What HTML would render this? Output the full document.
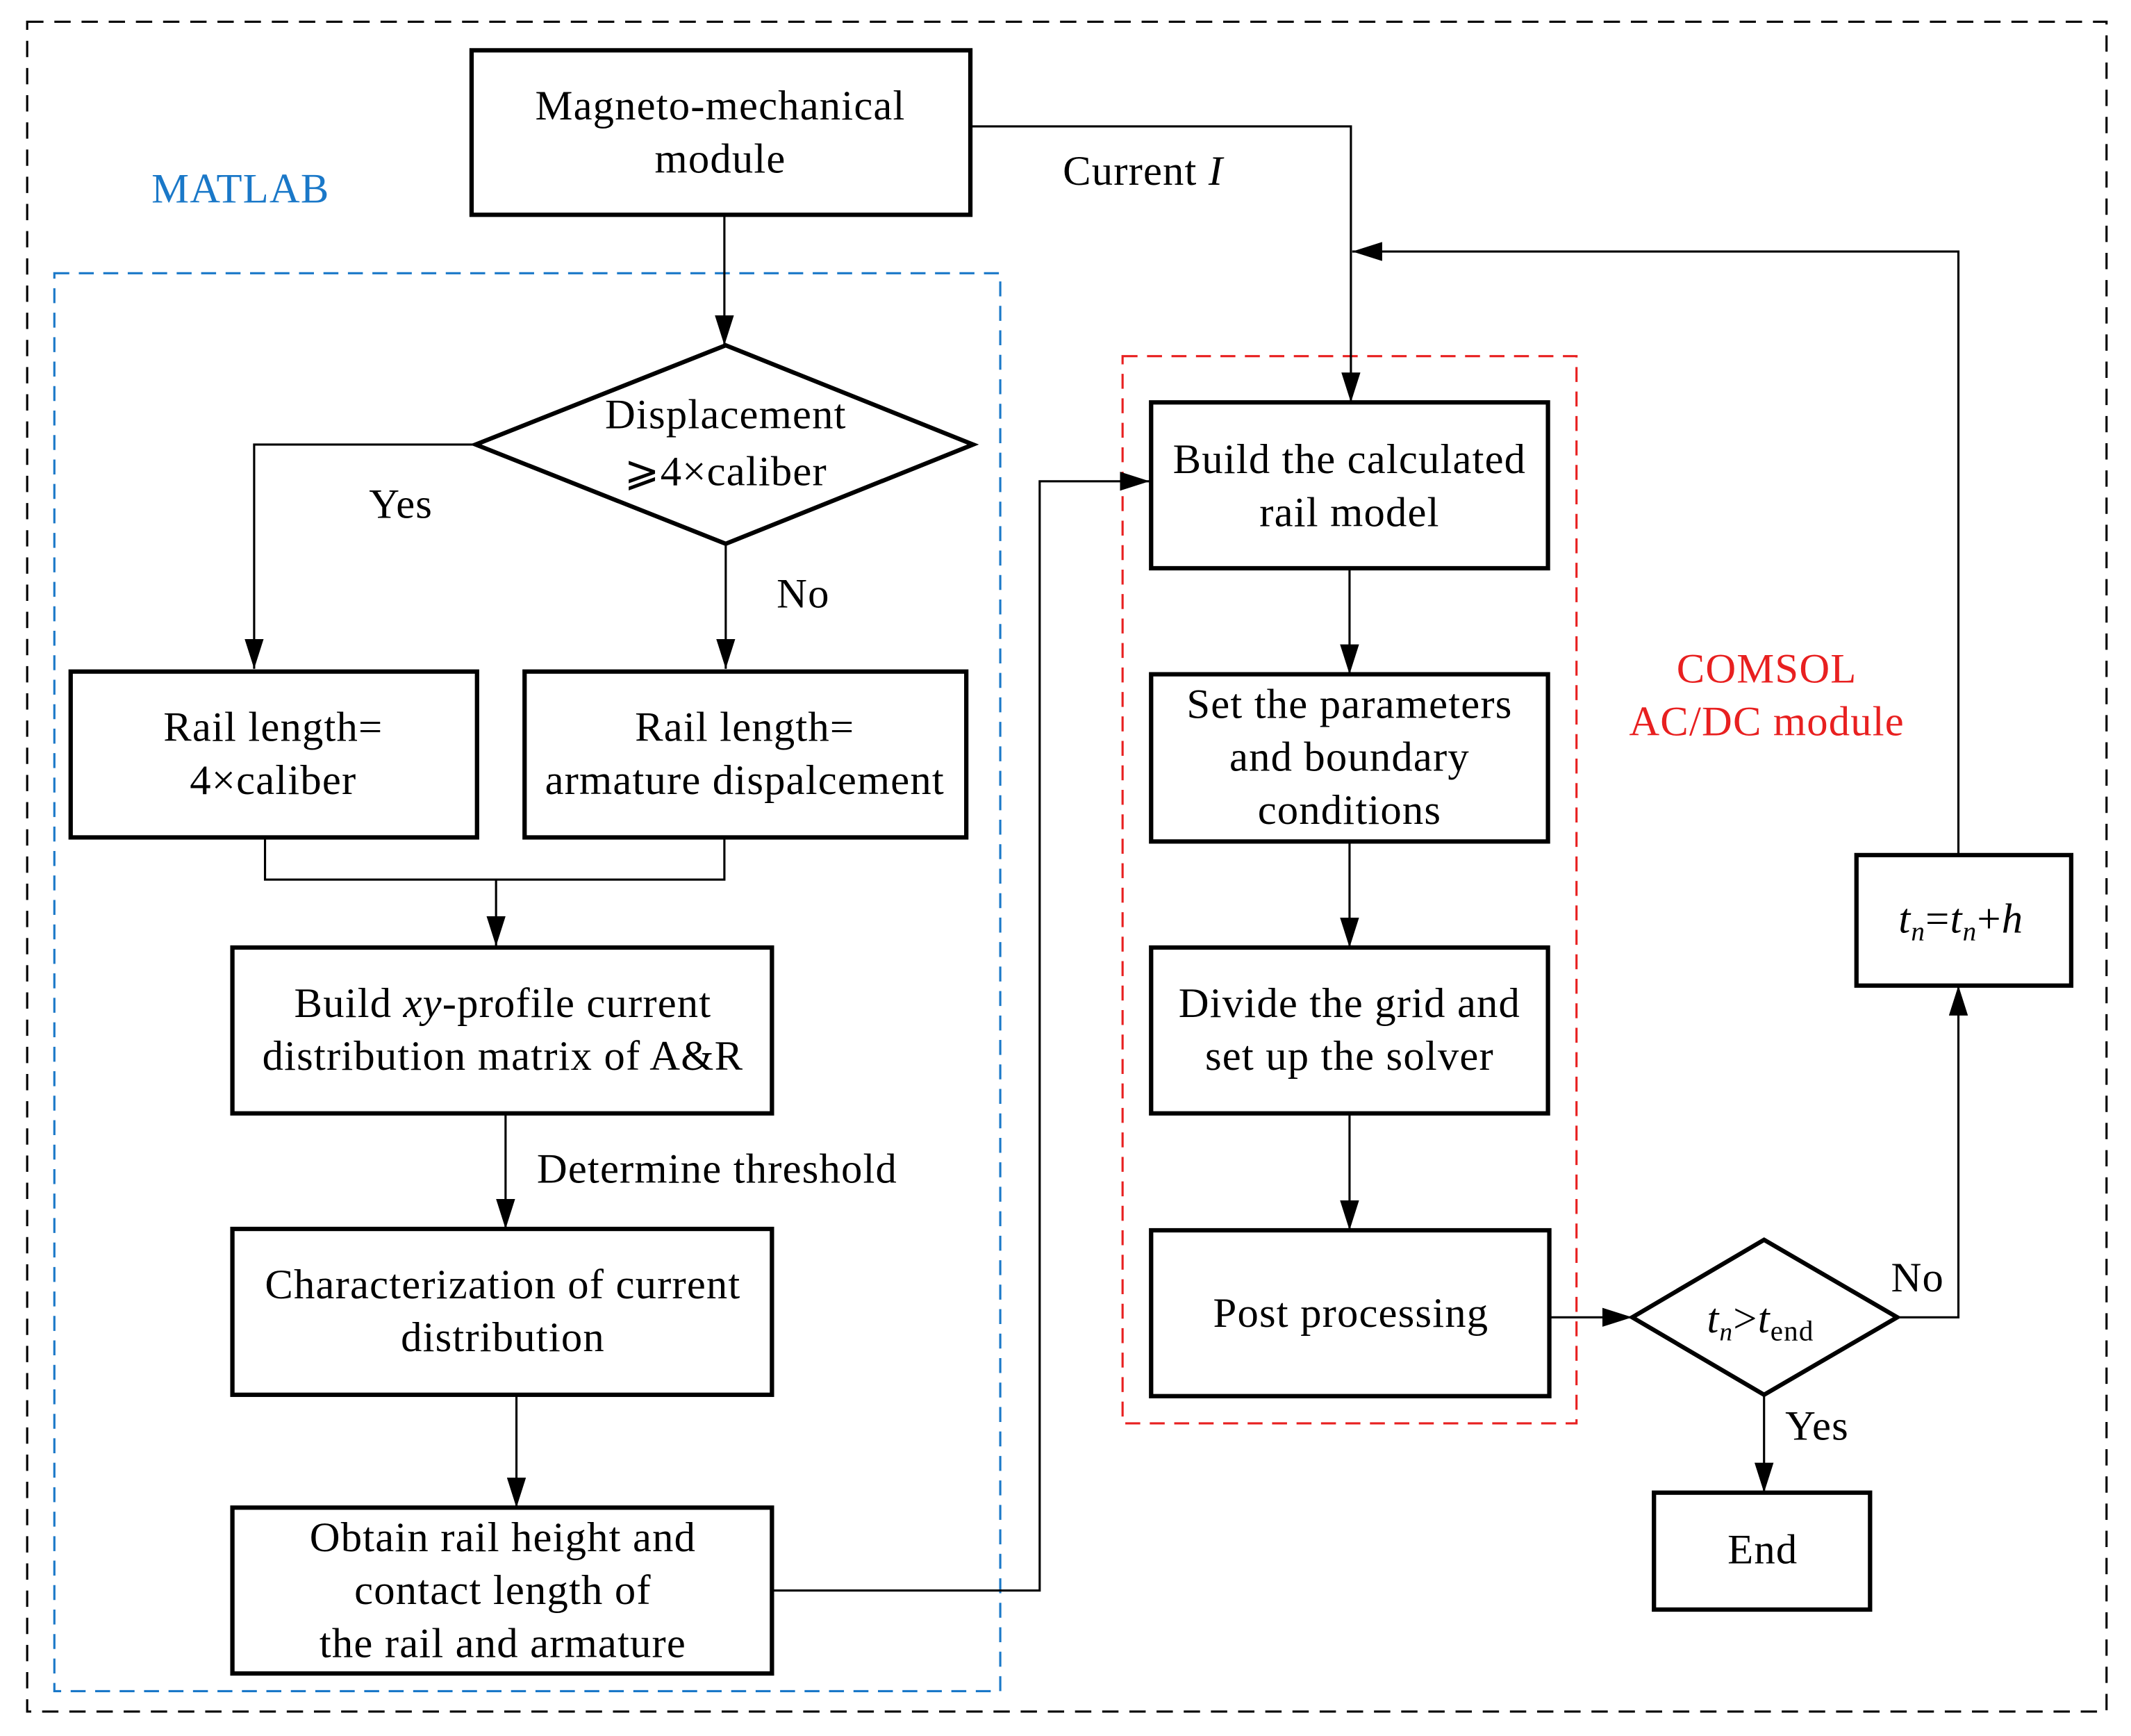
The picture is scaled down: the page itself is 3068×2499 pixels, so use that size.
<!DOCTYPE html>
<html><head><meta charset="utf-8"><style>
html,body{margin:0;padding:0;background:#fff;}
svg{display:block;}
text{font-family:"Liberation Serif",serif;font-size:31px;letter-spacing:0.6px;fill:#000;}
</style></head><body>
<svg width="3068" height="2499" viewBox="0 0 1568 1277" preserveAspectRatio="none" xmlns="http://www.w3.org/2000/svg">
<defs>
<marker id="a" viewBox="0 0 22 14" refX="22" refY="7" markerWidth="22" markerHeight="14" markerUnits="userSpaceOnUse" orient="auto">
<path d="M0,0 L22,7 L0,14 Z" fill="#000"/></marker>
</defs>
<rect x="20" y="16" width="1530" height="1243" fill="none" stroke="#000" stroke-width="1.6" stroke-dasharray="12,8"/>
<rect x="40" y="201" width="696" height="1043" fill="none" stroke="#1a78c8" stroke-width="1.6" stroke-dasharray="11,7"/>
<rect x="826" y="262" width="334" height="785" fill="none" stroke="#e82020" stroke-width="1.6" stroke-dasharray="11,7"/>

<g fill="#fff" stroke="#000" stroke-width="3.2">
<rect x="347" y="37" width="367" height="121"/>
<polygon points="350,327 534,254 716,327 534,400"/>
<rect x="52" y="494" width="299" height="122"/>
<rect x="386" y="494" width="325" height="122"/>
<rect x="171" y="697" width="397" height="122"/>
<rect x="171" y="904" width="397" height="122"/>
<rect x="171" y="1109" width="397" height="122"/>
<rect x="847" y="296" width="292" height="122"/>
<rect x="847" y="496" width="292" height="123"/>
<rect x="847" y="697" width="292" height="122"/>
<rect x="847" y="905" width="293" height="122"/>
<polygon points="1201,969 1298,912 1396,969 1298,1026"/>
<rect x="1217" y="1098" width="159" height="86"/>
<rect x="1366" y="629" width="158" height="96"/>
</g>

<g fill="none" stroke="#000" stroke-width="1.6">
<path d="M533,158 V254" marker-end="url(#a)"/>
<path d="M350,327 H187 V492" marker-end="url(#a)"/>
<path d="M534,400 V492" marker-end="url(#a)"/>
<path d="M195,616 V647 H533 V616"/>
<path d="M365,647 V696" marker-end="url(#a)"/>
<path d="M372,819 V904" marker-end="url(#a)"/>
<path d="M380,1026 V1109" marker-end="url(#a)"/>
<path d="M568,1170 H765 V354 H846" marker-end="url(#a)"/>
<path d="M714,93 H994 V296" marker-end="url(#a)"/>
<path d="M1441,629 V185 H995" marker-end="url(#a)"/>
<path d="M993,418 V496" marker-end="url(#a)"/>
<path d="M993,619 V697" marker-end="url(#a)"/>
<path d="M993,819 V905" marker-end="url(#a)"/>
<path d="M1140,969 H1201" marker-end="url(#a)"/>
<path d="M1396,969 H1441 V725" marker-end="url(#a)"/>
<path d="M1298,1026 V1098" marker-end="url(#a)"/>
</g>

<g text-anchor="middle">
<text x="530" y="88">Magneto-mechanical</text>
<text x="530" y="127">module</text>
<text x="177" y="149" style="fill:#1a78c8">MATLAB</text>
<text x="534" y="315">Displacement</text>
<text x="534" y="357">⩾4×caliber</text>
<text x="295" y="381">Yes</text>
<text x="591" y="447">No</text>
<text x="201" y="545">Rail length=</text>
<text x="201" y="584">4×caliber</text>
<text x="548" y="545">Rail length=</text>
<text x="548" y="584">armature dispalcement</text>
<text x="370" y="748">Build <tspan font-style="italic">xy</tspan>-profile current</text>
<text x="370" y="787">distribution matrix of A&amp;R</text>
<text x="370" y="955">Characterization of current</text>
<text x="370" y="994">distribution</text>
<text x="370" y="1141">Obtain rail height and</text>
<text x="370" y="1180">contact length of</text>
<text x="370" y="1219">the rail and armature</text>
<text x="993" y="348">Build the calculated</text>
<text x="993" y="387">rail model</text>
<text x="993" y="528">Set the parameters</text>
<text x="993" y="567">and boundary</text>
<text x="993" y="606">conditions</text>
<text x="993" y="748">Divide the grid and</text>
<text x="993" y="787">set up the solver</text>
<text x="994" y="976">Post processing</text>
<text x="1300" y="502" style="fill:#e82020">COMSOL</text>
<text x="1300" y="541" style="fill:#e82020">AC/DC module</text>
<text x="1297" y="1150">End</text>
<text x="1337" y="1059">Yes</text>
<text x="1411" y="950">No</text>
</g>
<text x="395" y="870">Determine threshold</text>
<text x="782" y="136">Current <tspan font-style="italic">I</tspan></text>
<text x="1256" y="980" font-style="italic" font-size="28">t<tspan font-size="19" dy="6">n</tspan><tspan dy="-6" font-style="normal">&gt;</tspan>t<tspan font-size="21" dy="6" font-style="normal">end</tspan></text>
<text x="1397" y="686" font-style="italic" font-size="30">t<tspan font-size="20" dy="6">n</tspan><tspan dy="-6" font-style="normal">=</tspan>t<tspan font-size="20" dy="6">n</tspan><tspan dy="-6" font-style="normal">+</tspan>h</text>
</svg>
</body></html>
